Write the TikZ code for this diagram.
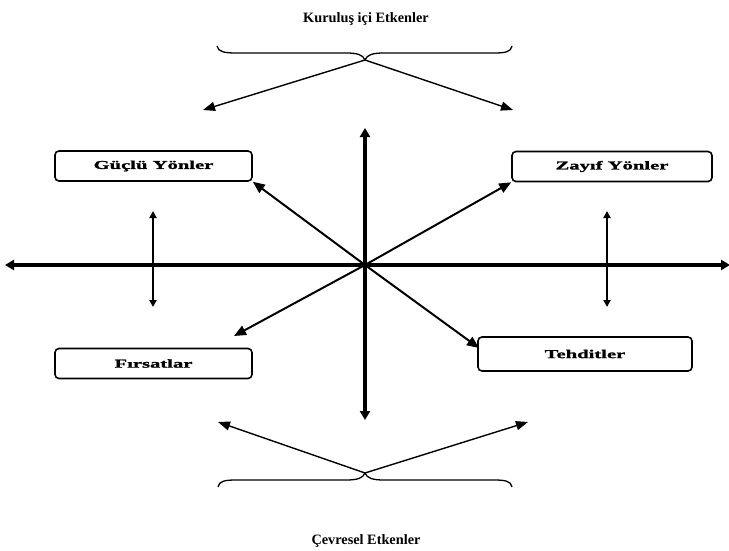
\documentclass[tikz,border=0pt]{standalone}
\usepackage{fontspec}
\setmainfont{Liberation Serif}
\newfontfamily\boxfont[FakeStretch=1.72,FakeBold=1.5]{Liberation Serif}
\usetikzlibrary{arrows.meta}
\tikzset{
  lbl/.style={font=\bfseries\fontsize{14.3}{16}\selectfont, inner sep=0pt},
  box/.style={draw, line width=1.6pt, rounded corners=4pt, minimum width=197pt, minimum height=30pt, inner sep=0pt, font=\boxfont\bfseries\fontsize{12}{14}\selectfont},
  axis/.style={line width=3.3pt, {Triangle[width=10pt,length=9pt]}-{Triangle[width=10pt,length=9pt]}},
  diag/.style={line width=2pt, -{Triangle[width=10pt,length=12pt]}},
  thin/.style={line width=1.4pt, -{Triangle[width=9pt,length=12pt]}},
  brace/.style={line width=1.3pt},
  small/.style={line width=2.2pt, {Triangle[width=7pt,length=7pt]}-{Triangle[width=7pt,length=7pt]}}
}
\begin{document}
\begin{tikzpicture}[x=1pt,y=-1pt]
\useasboundingbox (0,0) rectangle (729,551);
% titles
\node[lbl] (t1) at (366,19) {Kuruluş içi Etkenler};
\node[lbl] (t2) at (366,541) {Çevresel Etkenler};
% boxes
\node[box] (gy) at (153.5,166) {Güçlü Yönler};
\node[box, minimum width=200pt] (zy) at (612,166.5) {Zayıf Yönler};
\node[box] (fr) at (153.5,363.5) {Fırsatlar};
\node[box, minimum width=214pt, minimum height=34pt] (th) at (585,354) {Tehditler};
% axes
\coordinate (O) at (365,265);
\coordinate (L) at (5,265);
\coordinate (R) at (730,265);
\coordinate (T) at (365,128);
\coordinate (B) at (365,420);
\draw[axis] (L) -- (R);
\draw[axis] (T) -- (B);
% diagonals
\coordinate (ft) at (234,336);
\coordinate (tt) at (479,348);
\draw[diag] (O) -- (gy.south east);
\draw[diag] (O) -- (zy.south west);
\draw[diag] (O) -- (ft);
\draw[diag] (O) -- (tt);
% small double arrows
\coordinate (a1) at (153,211);
\coordinate (a2) at (153,307);
\coordinate (b1) at (607,211);
\coordinate (b2) at (607,307);
\draw[small] (a1) -- (a2);
\draw[small] (b1) -- (b2);
% top brace
\coordinate (tc) at (365,60);
\coordinate (tl) at (203,110);
\coordinate (tr) at (513,110);
\draw[brace] (217,46) .. controls (218,52) and (225,53) .. (236,53) -- (346,53) .. controls (358,53) and (363,55) .. (tc)
  .. controls (367,55) and (372,53) .. (384,53) -- (494,53) .. controls (505,53) and (511,52) .. (512,46);
\draw[thin] (tc) -- (tl);
\draw[thin] (tc) -- (tr);
% bottom brace
\coordinate (bc) at (365,473);
\coordinate (bl) at (218,422);
\coordinate (br) at (528,422);
\draw[brace] (218,487) .. controls (219,481) and (225,480) .. (236,480) -- (346,480) .. controls (358,480) and (363,478) .. (bc)
  .. controls (367,478) and (372,480) .. (384,480) -- (494,480) .. controls (505,480) and (511,481) .. (512,487);
\draw[thin] (bc) -- (bl);
\draw[thin] (bc) -- (br);
\end{tikzpicture}
\end{document}
